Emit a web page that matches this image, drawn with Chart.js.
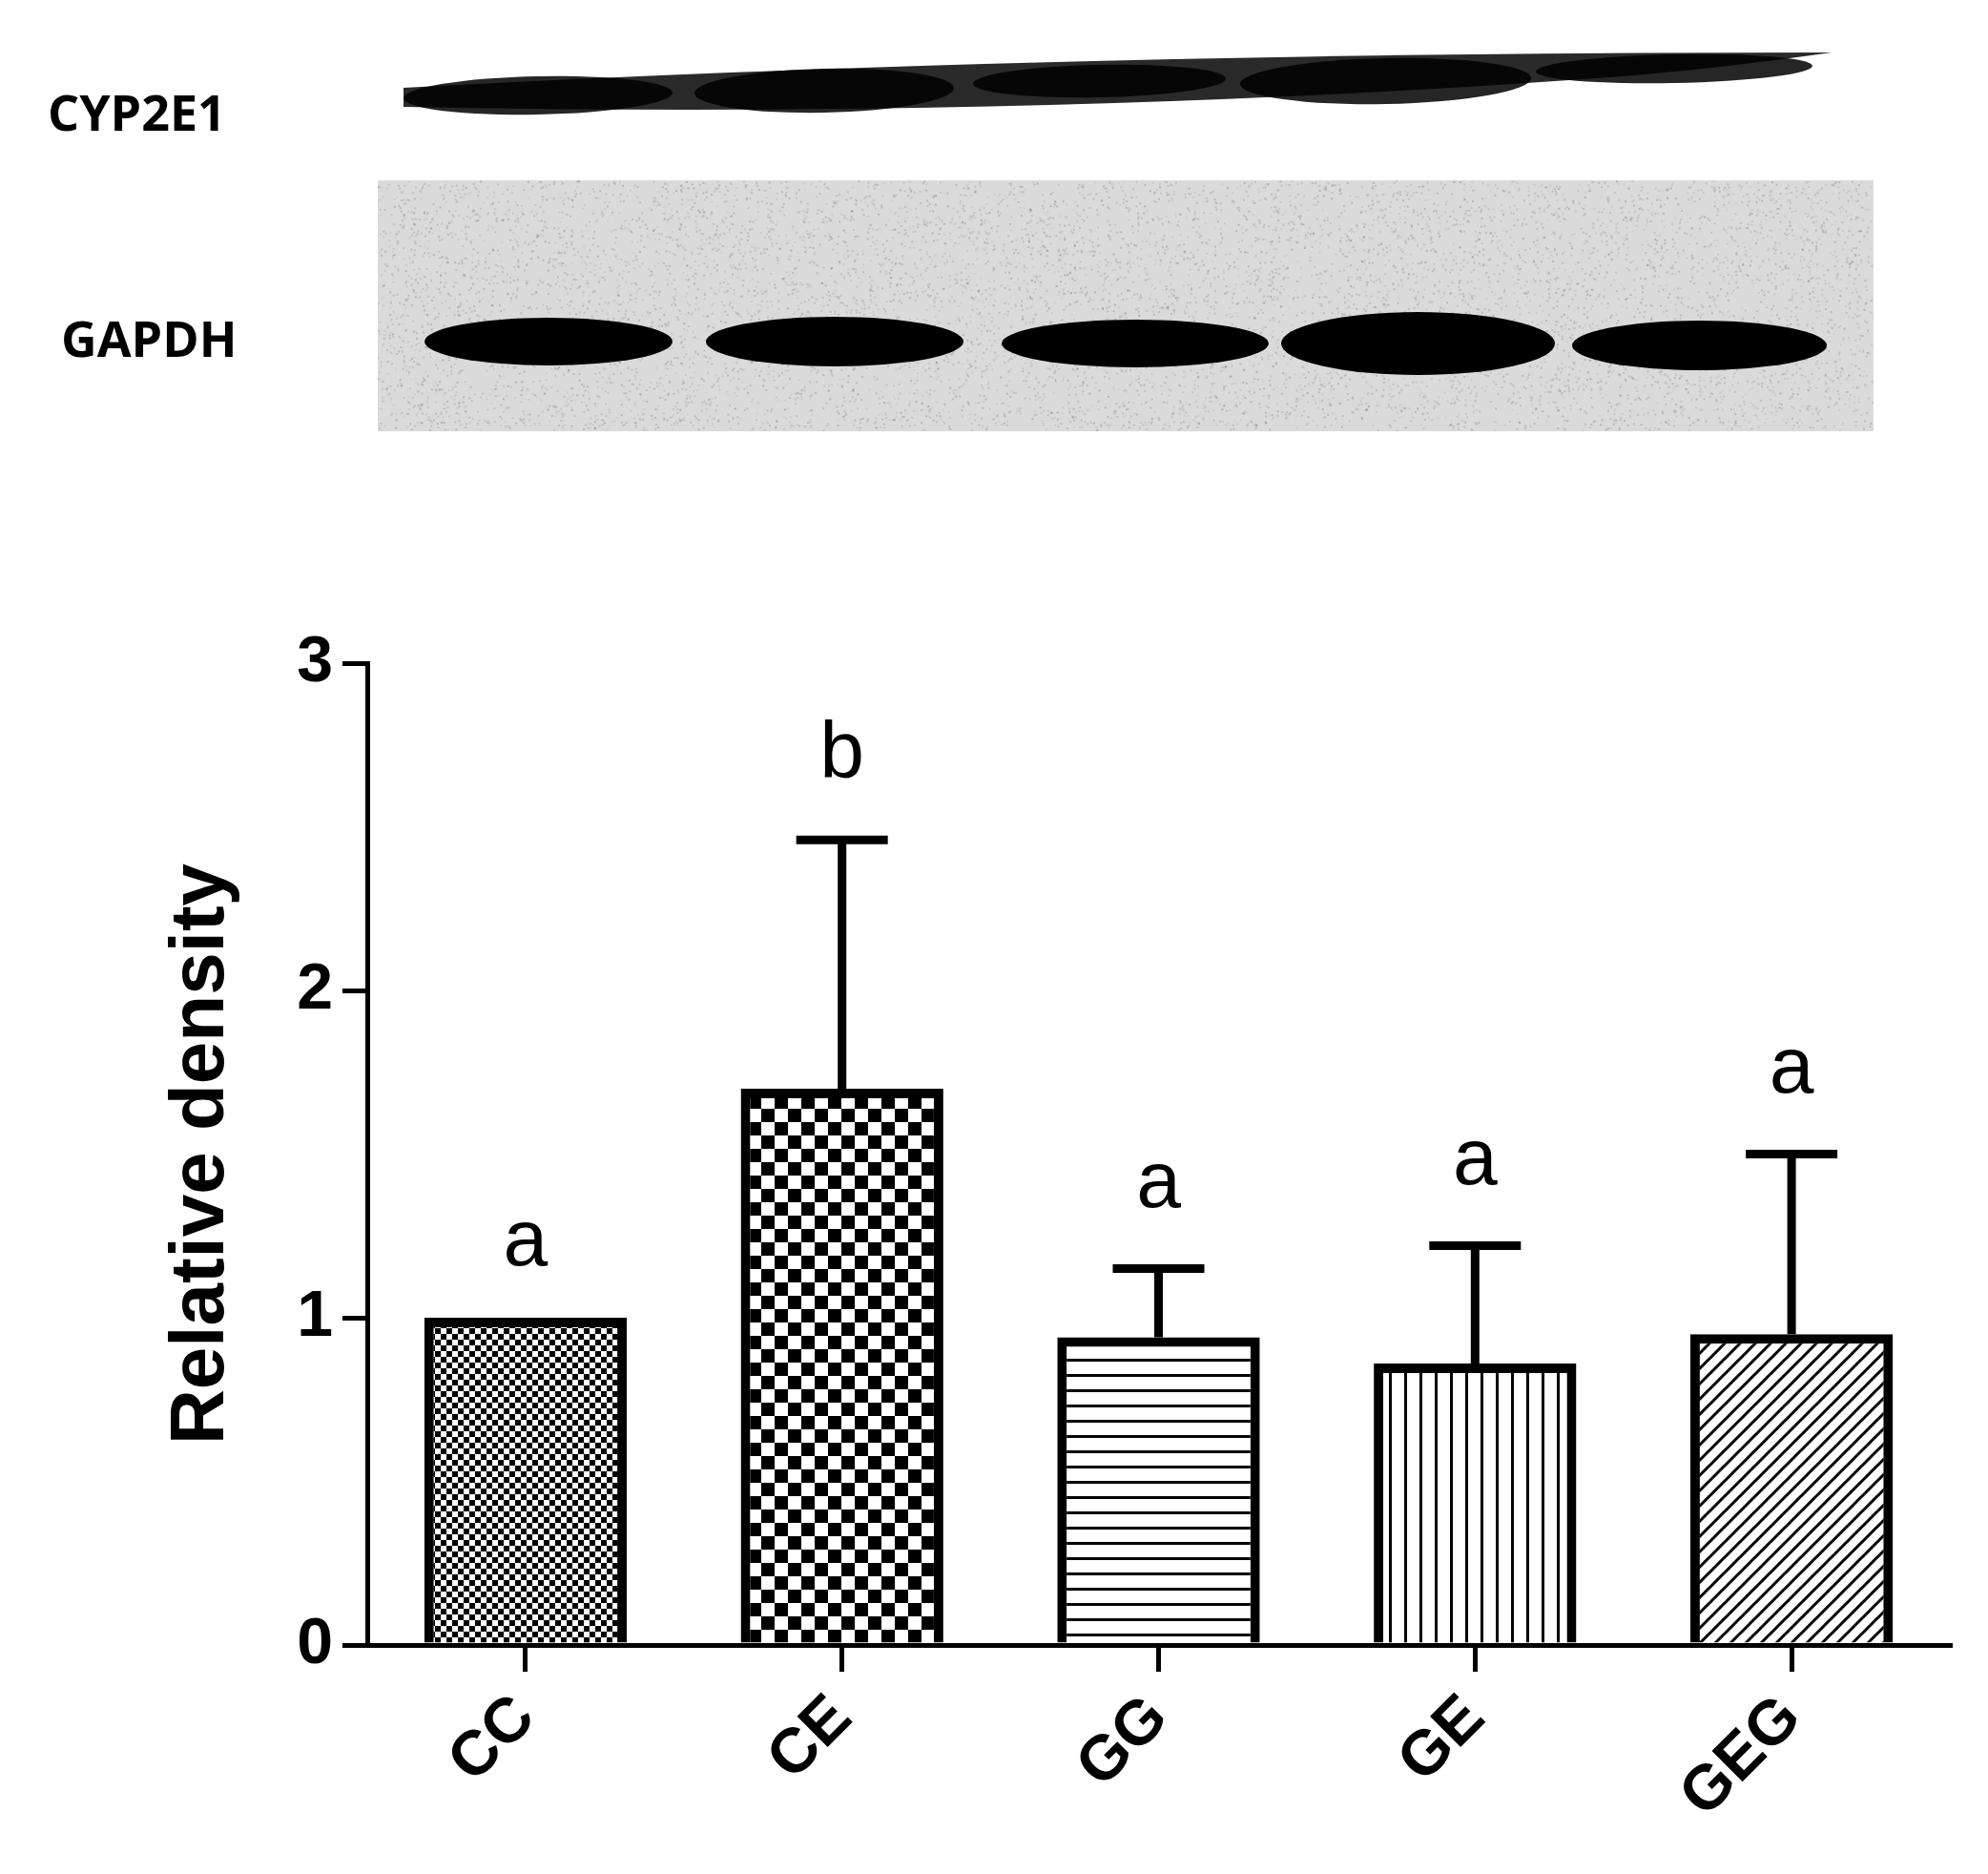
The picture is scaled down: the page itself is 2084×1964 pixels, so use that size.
<!DOCTYPE html>
<html><head><meta charset="utf-8">
<script src="https://cdn.jsdelivr.net/npm/chart.js@4"></script>
<style>html,body{margin:0;padding:0;background:#fff}#c{display:block}</style>
</head><body>
<div style="width:2084px;height:1964px;position:relative"><canvas id="c" width="2084" height="1964"></canvas></div>
<script>
const categories = ['CC','CE','GG','GE','GEG'];
const meanValues = [1.00, 1.70, 0.94, 0.86, 0.95];
const errorUpper = [1.00, 2.46, 1.15, 1.22, 1.50];
const sigLetters = ['a','b','a','a','a'];
const yTicks = [0,1,2,3];

function pat(kind){
  const c=document.createElement('canvas');const s=kind==='check'?28:(kind==='fine'?12:16);
  c.width=s;c.height=s;const g=c.getContext('2d');g.fillStyle='#fff';g.fillRect(0,0,s,s);g.fillStyle='#000';g.strokeStyle='#000';
  if(kind==='fine'){g.fillRect(0,0,6,6);g.fillRect(6,6,6,6);}
  else if(kind==='check'){g.fillRect(0,0,14,14);g.fillRect(14,14,14,14);}
  else if(kind==='h'){g.fillRect(0,0,s,3);}
  else if(kind==='v'){g.fillRect(0,0,3,s);}
  else {g.lineWidth=3;g.beginPath();g.moveTo(-2,s+2);g.lineTo(s+2,-2);g.moveTo(-2,2);g.lineTo(2,-2);g.moveTo(s-2,s+2);g.lineTo(s+2,s-2);g.stroke();}
  return document.getElementById('c').getContext('2d').createPattern(c,'repeat');
}
const fills=[pat('fine'),pat('check'),pat('h'),pat('v'),pat('d')];

function band(ctx,x1,x2,yc,h,tilt,alpha){
  ctx.save();ctx.fillStyle='rgba(0,0,0,'+alpha+')';
  ctx.beginPath();ctx.ellipse((x1+x2)/2,yc,(x2-x1)/2,h/2,tilt,0,Math.PI*2);ctx.fill();ctx.restore();
}
const blot={id:'blot',beforeDraw(ch){
  const ctx=ch.ctx;ctx.save();ctx.fillStyle='#fff';ctx.fillRect(0,0,2084,1964);
  ctx.fillStyle='#000';ctx.font='bold 52px "Open Sans", "Liberation Sans", sans-serif';ctx.textBaseline='middle';
  ctx.fillText('CYP2E1',50,122);ctx.fillText('GAPDH',64,359);
  ctx.fillStyle='#2a2a2a';
  ctx.beginPath();ctx.moveTo(423,92);
  ctx.quadraticCurveTo(1100,55,1920,55);ctx.quadraticCurveTo(1800,72,1700,80);
  ctx.quadraticCurveTo(1100,125,423,112);ctx.closePath();ctx.fill();
  [[423,705,100,40],[728,1000,95,46],[1020,1285,85,34],[1300,1605,85,48],[1610,1900,72,30]].forEach(b=>band(ctx,b[0],b[1],b[2],b[3],-0.02,0.85));
  ctx.fillStyle='#dadada';ctx.fillRect(396,189,1568,263);
  let seed=12345;const rnd=()=>{seed=(seed*1103515245+12345)%2147483648;return seed/2147483648;};
  for(let i=0;i<9000;i++){ctx.fillStyle='rgba(0,0,0,'+(0.05+rnd()*0.12)+')';ctx.fillRect(396+rnd()*1566,189+rnd()*261,2,2);}
  [[445,705,358,50],[740,1010,358,52],[1050,1330,360,50],[1343,1630,360,66],[1648,1915,362,52]].forEach(b=>{band(ctx,b[0],b[1],b[2],b[3],0,1);});
  ctx.restore();
}};
const extras={id:'extras',afterDatasetsDraw(ch){
  const ctx=ch.ctx,x=ch.scales.x,y=ch.scales.y;ctx.save();
  ctx.strokeStyle='#000';ctx.lineWidth=9;ctx.lineCap='butt';
  categories.forEach((c,i)=>{
    const cx=x.getPixelForValue(i),yt=y.getPixelForValue(meanValues[i]),ye=y.getPixelForValue(errorUpper[i]);
    if(errorUpper[i]>meanValues[i]){ctx.beginPath();ctx.moveTo(cx,yt);ctx.lineTo(cx,ye);ctx.moveTo(cx-48,ye);ctx.lineTo(cx+48,ye);ctx.stroke();}
    ctx.fillStyle='#000';ctx.font='84px "Liberation Sans", Arial, sans-serif';ctx.textAlign='center';ctx.textBaseline='alphabetic';
    ctx.fillText(sigLetters[i],cx,ye-(i===0?55:65));
  });
  ctx.restore();
}};
new Chart(document.getElementById('c'),{
  type:'bar',
  data:{labels:categories,datasets:[{data:meanValues,backgroundColor:fills,borderColor:'#000',borderWidth:10,borderSkipped:'bottom',barPercentage:0.64,categoryPercentage:1}]},
  options:{responsive:false,animation:false,
    layout:{padding:{left:160,right:40,top:695,bottom:0}},
    plugins:{legend:{display:false},tooltip:{enabled:false}},
    scales:{
      x:{offset:true,afterFit(s){s.height=240;},
        grid:{display:true,drawOnChartArea:false,drawTicks:true,tickLength:28,color:'#000',lineWidth:5,offset:false},
        border:{color:'#000',width:5},
        ticks:{color:'#000',maxRotation:45,minRotation:45,padding:10,font:{family:'"Liberation Sans", Arial, sans-serif',size:66,weight:'bold'}}},
      y:{min:0,max:3,afterFit(s){s.width=225;},afterBuildTicks(s){s.ticks=yTicks.map(v=>({value:v}));},
        grid:{display:true,drawOnChartArea:false,drawTicks:true,tickLength:26,color:'#000',lineWidth:5},
        border:{color:'#000',width:5},
        title:{display:true,text:'Relative density',color:'#000',padding:{bottom:20},font:{family:'"Liberation Sans", Arial, sans-serif',size:80,weight:'bold'}},
        ticks:{color:'#000',padding:10,font:{family:'"Liberation Sans", Arial, sans-serif',size:68,weight:'bold'}}}
    }},
  plugins:[blot,extras]
});
</script></body></html>
